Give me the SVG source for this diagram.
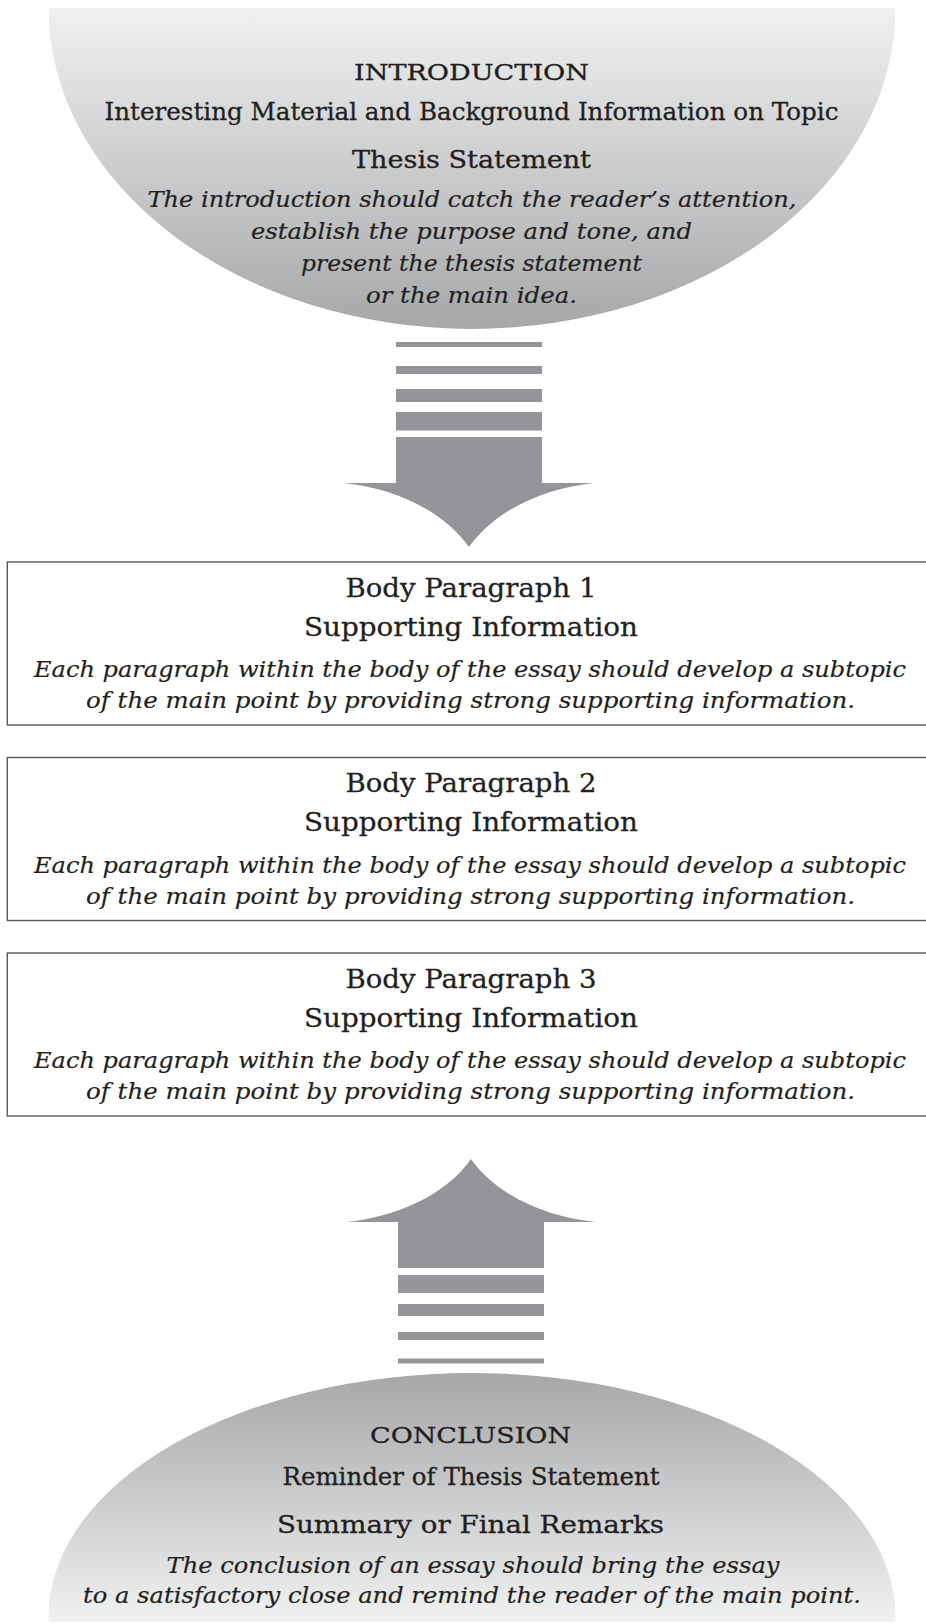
<svg xmlns="http://www.w3.org/2000/svg" width="926" height="1623" viewBox="0 0 926 1623">
<style>
text{font-family:"DejaVu Serif","Liberation Serif",serif;fill:#231f20;stroke:#231f20;stroke-width:0.3;text-anchor:middle}
.cap{font-size:22px}
.hd{font-size:25px}
.bh{font-size:26.5px}
.it{font-size:23px;font-style:italic;stroke-width:0.2}
.box{fill:#fff;stroke:#58595b;stroke-width:1.4}
.arr{fill:#939598}
</style>
<defs>
<linearGradient id="gTop" gradientUnits="userSpaceOnUse" x1="0" y1="8" x2="0" y2="329">
<stop offset="0" stop-color="#f0f1f1"/><stop offset="1" stop-color="#a6a7a9"/>
</linearGradient>
<linearGradient id="gBot" gradientUnits="userSpaceOnUse" x1="0" y1="1373" x2="0" y2="1622">
<stop offset="0" stop-color="#a6a7a9"/><stop offset="1" stop-color="#f0f1f1"/>
</linearGradient>
</defs>
<g id="intro">
<path d="M48.5,8 A423.5,321 0 0 0 895.5,8 Z" fill="url(#gTop)"/>
<text class="cap" x="471.5" y="79.5" textLength="235" lengthAdjust="spacingAndGlyphs">INTRODUCTION</text>
<text class="hd" x="471.5" y="120" textLength="734" lengthAdjust="spacingAndGlyphs">Interesting Material and Background Information on Topic</text>
<text class="hd" x="471.5" y="167.5" textLength="239" lengthAdjust="spacingAndGlyphs">Thesis Statement</text>
<text class="it" x="472" y="207" textLength="649" lengthAdjust="spacingAndGlyphs">The introduction should catch the reader’s attention,</text>
<text class="it" x="471.5" y="239" textLength="441" lengthAdjust="spacingAndGlyphs">establish the purpose and tone, and</text>
<text class="it" x="471.5" y="271" textLength="341" lengthAdjust="spacingAndGlyphs">present the thesis statement</text>
<text class="it" x="471.5" y="303" textLength="211" lengthAdjust="spacingAndGlyphs">or the main idea.</text>
</g>
<g id="connectors">
<g id="arrow-down">
<rect class="arr" x="396" y="342" width="146" height="5"/>
<rect class="arr" x="396" y="366" width="146" height="8"/>
<rect class="arr" x="396" y="389" width="146" height="13"/>
<rect class="arr" x="396" y="412" width="146" height="18.5"/>
<path class="arr" d="M396,437 H542 V483 H594 C545,488 495,510 469,547 C443,510 393,488 344,483 H396 Z"/>
</g>
<g id="arrow-up">
<path class="arr" d="M398,1268 V1222 H346 C395,1217 445,1196 471,1159 C497,1196 547,1217 596,1222 H544 V1268 Z"/>
<rect class="arr" x="398" y="1275" width="146" height="18"/>
<rect class="arr" x="398" y="1304" width="146" height="12"/>
<rect class="arr" x="398" y="1332" width="146" height="8"/>
<rect class="arr" x="398" y="1358.5" width="146" height="5"/>
</g>
</g>
<g id="body1">
<rect class="box" x="7.3" y="562" width="940" height="163"/>
<text class="bh" x="471" y="596.5" textLength="251" lengthAdjust="spacingAndGlyphs">Body Paragraph 1</text>
<text class="bh" x="471" y="635.5" textLength="334" lengthAdjust="spacingAndGlyphs">Supporting Information</text>
<text class="it" x="470" y="677" textLength="872" lengthAdjust="spacingAndGlyphs">Each paragraph within the body of the essay should develop a subtopic</text>
<text class="it" x="470.5" y="708" textLength="769" lengthAdjust="spacingAndGlyphs">of the main point by providing strong supporting information.</text>
</g>
<g id="body2">
<rect class="box" x="7.3" y="757.5" width="940" height="163"/>
<text class="bh" x="471" y="792" textLength="251" lengthAdjust="spacingAndGlyphs">Body Paragraph 2</text>
<text class="bh" x="471" y="831" textLength="334" lengthAdjust="spacingAndGlyphs">Supporting Information</text>
<text class="it" x="470" y="872.5" textLength="872" lengthAdjust="spacingAndGlyphs">Each paragraph within the body of the essay should develop a subtopic</text>
<text class="it" x="470.5" y="903.5" textLength="769" lengthAdjust="spacingAndGlyphs">of the main point by providing strong supporting information.</text>
</g>
<g id="body3">
<rect class="box" x="7.3" y="953" width="940" height="163"/>
<text class="bh" x="471" y="987.5" textLength="251" lengthAdjust="spacingAndGlyphs">Body Paragraph 3</text>
<text class="bh" x="471" y="1026.5" textLength="334" lengthAdjust="spacingAndGlyphs">Supporting Information</text>
<text class="it" x="470" y="1068" textLength="872" lengthAdjust="spacingAndGlyphs">Each paragraph within the body of the essay should develop a subtopic</text>
<text class="it" x="470.5" y="1099" textLength="769" lengthAdjust="spacingAndGlyphs">of the main point by providing strong supporting information.</text>
</g>
<g id="conclusion">
<path d="M48.5,1622 V1617 A423.5,244 0 0 1 895.5,1617 V1622 Z" fill="url(#gBot)"/>
<text class="cap" x="470.5" y="1442.5" textLength="201" lengthAdjust="spacingAndGlyphs">CONCLUSION</text>
<text class="hd" x="471" y="1485" textLength="377" lengthAdjust="spacingAndGlyphs">Reminder of Thesis Statement</text>
<text class="hd" x="470.5" y="1533" textLength="387" lengthAdjust="spacingAndGlyphs">Summary or Final Remarks</text>
<text class="it" x="473" y="1572.5" textLength="613" lengthAdjust="spacingAndGlyphs">The conclusion of an essay should bring the essay</text>
<text class="it" x="472" y="1603" textLength="778" lengthAdjust="spacingAndGlyphs">to a satisfactory close and remind the reader of the main point.</text>
</g>
</svg>
